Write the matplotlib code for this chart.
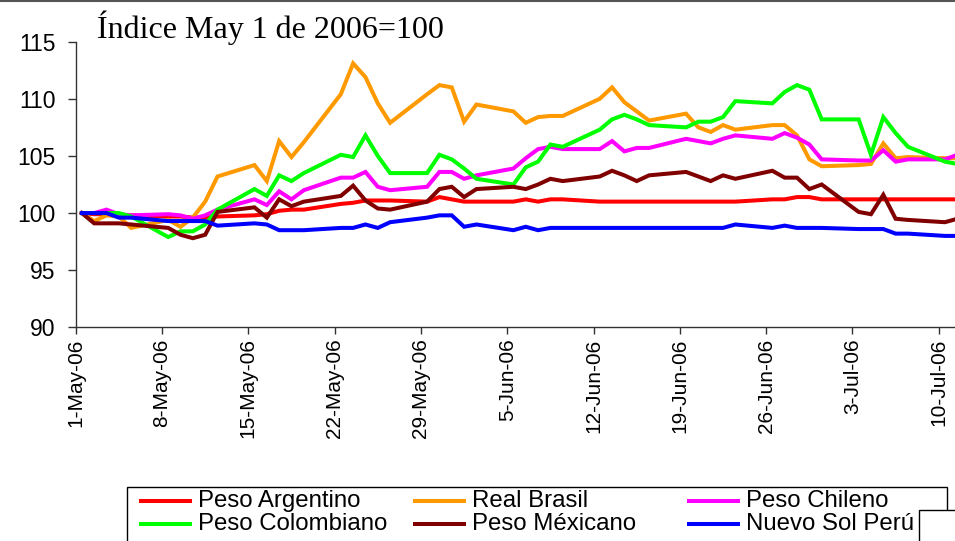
import matplotlib
matplotlib.use('Agg')
import matplotlib.pyplot as plt
import matplotlib.dates as mdates
import matplotlib.transforms as mtransforms
from matplotlib.lines import Line2D
from matplotlib.patches import Rectangle
import pandas as pd

# dias habiles del 1 de mayo al 11 de julio de 2006
dates = pd.bdate_range('2006-05-01', '2006-07-11')

peso_argentino = [100.0, 99.9, 99.9, 99.8, 99.8, 99.7, 99.7, 99.6, 99.6, 99.7,
                  99.8, 99.9, 100.2, 100.3, 100.3, 100.8, 100.9, 101.1, 101.1, 101.1,
                  101.0, 101.4, 101.2, 101.0, 101.0, 101.0, 101.2, 101.0, 101.2, 101.2,
                  101.0, 101.0, 101.0, 101.0, 101.0, 101.0, 101.0, 101.0, 101.0, 101.0,
                  101.2, 101.2, 101.4, 101.4, 101.2, 101.2, 101.2, 101.2, 101.2, 101.2,
                  101.2, 101.2]
real_brasil = [100.0, 99.3, 99.8, 99.7, 98.7, 99.4, 98.8, 99.6, 101.0, 103.2,
               104.2, 102.8, 106.3, 104.9, 106.2, 110.4, 113.1, 111.9, 109.6, 107.9,
               110.4, 111.2, 111.0, 108.0, 109.5, 108.9, 107.9, 108.4, 108.5, 108.5,
               110.0, 111.0, 109.7, 108.9, 108.1, 108.7, 107.5, 107.1, 107.7, 107.3,
               107.7, 107.7, 106.8, 104.7, 104.1, 104.2, 104.3, 106.1, 104.8, 104.9,
               104.8, 104.8]
peso_chileno = [100.0, 100.0, 100.3, 99.9, 99.8, 99.9, 99.8, 99.5, 99.8, 100.3,
                101.2, 100.7, 101.9, 101.2, 102.0, 103.1, 103.1, 103.6, 102.3, 102.0,
                102.3, 103.6, 103.6, 103.0, 103.3, 103.9, 104.8, 105.6, 105.8, 105.6,
                105.6, 106.3, 105.4, 105.7, 105.7, 106.5, 106.3, 106.1, 106.5, 106.8,
                106.5, 107.0, 106.6, 106.0, 104.7, 104.6, 104.6, 105.5, 104.5, 104.7,
                104.7, 105.1]
peso_colombiano = [100.0, 100.0, 100.0, 100.0, 99.7, 97.9, 98.4, 98.4, 99.0, 100.3,
                   102.1, 101.5, 103.3, 102.8, 103.5, 105.1, 104.9, 106.8, 105.0, 103.5,
                   103.5, 105.1, 104.7, 103.9, 103.0, 102.5, 104.0, 104.5, 106.0, 105.8,
                   107.3, 108.2, 108.6, 108.2, 107.7, 107.5, 108.0, 108.0, 108.4, 109.8,
                   109.6, 110.6, 111.2, 110.8, 108.2, 108.2, 105.1, 108.4, 107.0, 105.8,
                   104.5, 104.3]
peso_mexicano = [100.0, 99.1, 99.1, 99.1, 99.0, 98.7, 98.1, 97.8, 98.1, 100.1,
                 100.5, 99.6, 101.2, 100.6, 101.0, 101.5, 102.4, 101.1, 100.4, 100.3,
                 101.0, 102.1, 102.3, 101.4, 102.1, 102.3, 102.1, 102.5, 103.0, 102.8,
                 103.2, 103.7, 103.3, 102.8, 103.3, 103.6, 103.2, 102.8, 103.3, 103.0,
                 103.7, 103.1, 103.1, 102.1, 102.5, 100.1, 99.9, 101.6, 99.5, 99.4,
                 99.2, 99.5]
nuevo_sol = [100.0, 100.0, 100.0, 99.6, 99.6, 99.3, 99.3, 99.3, 99.3, 98.9,
             99.1, 99.0, 98.5, 98.5, 98.5, 98.7, 98.7, 99.0, 98.7, 99.2,
             99.6, 99.8, 99.8, 98.8, 99.0, 98.5, 98.8, 98.5, 98.7, 98.7,
             98.7, 98.7, 98.7, 98.7, 98.7, 98.7, 98.7, 98.7, 98.7, 99.0,
             98.7, 98.9, 98.7, 98.7, 98.7, 98.6, 98.6, 98.6, 98.2, 98.2,
             98.0, 98.0]

series = [('Peso Argentino', peso_argentino, '#FF0000'),
          ('Real Brasil', real_brasil, '#FF9900'),
          ('Peso Chileno', peso_chileno, '#FF00FF'),
          ('Peso Colombiano', peso_colombiano, '#00FF00'),
          ('Peso Méxicano', peso_mexicano, '#800000'),
          ('Nuevo Sol Perú', nuevo_sol, '#0000FF')]

tick_dates = pd.date_range('2006-05-01', periods=11, freq='7D')
tick_labels = [f"{d.day}-{d.strftime('%b-%y')}" for d in tick_dates]

W, H = 955, 541
fig = plt.figure(figsize=(W / 100, H / 100), dpi=100)
ax = fig.add_axes([75.7 / W, 1 - 327.3 / H, (W - 75.7) / W, 285.6 / H])

x = mdates.date2num(dates) + 0.5   # puntos al centro del dia, como en Excel
for name, vals, col in series:
    ax.plot(x, vals, color=col, lw=2.9, label=name, solid_joinstyle='miter')

x0 = mdates.date2num(pd.Timestamp('2006-05-01'))
ax.set_xlim(x0, x0 + (W - 75.7) / 12.33)
ax.set_ylim(90, 115)
ax.set_yticks(range(90, 116, 5))
ax.set_xticks(mdates.date2num(tick_dates))
ax.set_xticklabels(tick_labels, rotation=90, family='Liberation Sans', fontsize=15)
shift = mtransforms.ScaledTranslation(4 / 100, 0, fig.dpi_scale_trans)
for t in ax.get_xticklabels():
    t.set_transform(t.get_transform() + shift)
for t in ax.get_yticklabels():
    t.set_family('Liberation Sans')
    t.set_fontsize(16.5)

for s in ['top', 'right']:
    ax.spines[s].set_visible(False)
for s in ['left', 'bottom']:
    ax.spines[s].set_color('#333333')
    ax.spines[s].set_linewidth(1.0)
ax.tick_params(axis='y', direction='out', length=5.5, width=1, color='#333333', pad=9)
ax.tick_params(axis='x', direction='out', length=5, width=1, color='#333333', pad=3)

fig.text(97 / W, 1 - 38 / H, 'Índice May 1 de 2006=100', family='Liberation Serif',
         fontsize=23, va='baseline', ha='left')

# borde superior del area del grafico
fig.add_artist(Line2D([0, 1], [1 - 1 / H, 1 - 1 / H], transform=fig.transFigure,
                      color='#555555', lw=1.5))

# leyenda dibujada a mano (3 columnas, 2 filas)
fig.add_artist(Rectangle((127 / W, -0.1), (947 - 127) / W, 1 - 487 / H + 0.1,
                         transform=fig.transFigure, facecolor='white',
                         edgecolor='black', lw=1.0))
col_x = [141, 415, 689]
row_y = [501, 524]
for i, (name, vals, col) in enumerate(series):
    cx = col_x[i % 3]
    ry = 1 - row_y[i // 3] / H
    fig.add_artist(Line2D([cx / W, (cx + 49) / W], [ry, ry], transform=fig.transFigure,
                          color=col, lw=2.9))
    fig.text((cx + 57) / W, ry, name, family='Liberation Sans', fontsize=17.3,
             va='center', ha='left')

fig.add_artist(Rectangle((919 / W, -0.1), 0.2, 1 - 510 / H + 0.1,
                         transform=fig.transFigure, facecolor='white',
                         edgecolor='black', lw=1.0))

fig.savefig('out.png', dpi=100)
